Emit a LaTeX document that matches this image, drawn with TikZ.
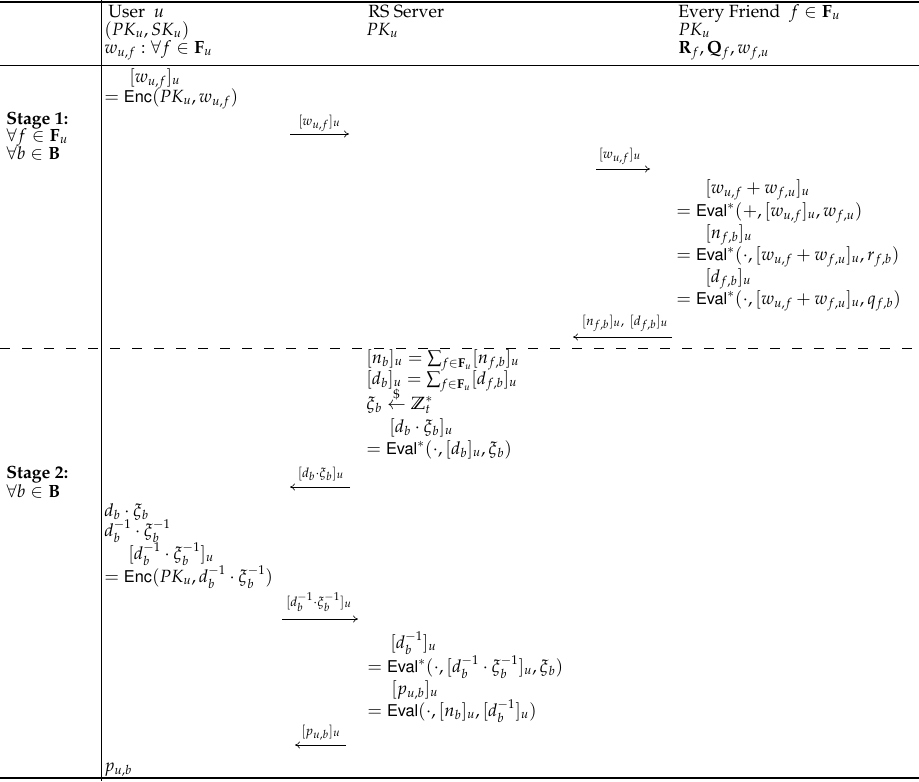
\documentclass[tikz,border=0pt]{standalone}
\usepackage[T1]{fontenc}
\usepackage{mathpazo}
\usepackage[scaled=0.92]{helvet}
\usepackage{amsmath,amssymb}
\usetikzlibrary{arrows.meta}
\DeclareMathSizes{11.5}{11.5}{8.3}{6.2}
\DeclareMathSizes{8.6}{8.6}{7.4}{6}
\newcommand{\myEnc}{\textsf{Enc}}
\newcommand{\myEval}{\textsf{Eval}}
\begin{document}
\begin{tikzpicture}[x=0.65pt,y=-0.65pt,
  txt/.style={anchor=base west, inner sep=0pt, font=\fontsize{11.5}{13.8}\selectfont},
  msg/.style={anchor=base, inner sep=0pt, font=\fontsize{8.6}{10}\selectfont},
  arr/.style={-{To[length=3.2pt,width=4.5pt]}, line width=0.4pt},
  rule/.style={line width=0.8pt},
  midrule/.style={line width=0.6pt},
  dashrule/.style={line width=0.5pt, dash pattern=on 6.5pt off 7.8pt}]
\useasboundingbox (0,0) rectangle (919,781);
% rules
\coordinate (tl) at (0,2); \coordinate (tr) at (919,2);
\coordinate (hl) at (0,65); \coordinate (hr) at (919,65);
\coordinate (dl) at (0,348); \coordinate (dr) at (919,348);
\coordinate (bl) at (0,778); \coordinate (br) at (919,778);
\coordinate (vt) at (101.5,0); \coordinate (vb) at (101.5,781);
\draw[rule] (tl) -- (tr);
\draw[midrule] (hl) -- (hr);
\draw[dashrule] (dl) -- (dr);
\draw[rule] (bl) -- (br);
\draw[line width=0.5pt] (vt) -- (vb);
% header
\node[txt] (h1) at (108,17) {User\ \ $u$};
\node[txt] (h2) at (104,35) {$(PK_u,SK_u)$};
\node[txt] (h3) at (104,53) {$w_{u,f}:\forall f\in\mathbf{F}_u$};
\node[txt] (s1) at (368,17) {RS Server};
\node[txt] (s2) at (366,35) {$PK_u$};
\node[txt] (f1) at (678,17) {Every Friend\ \ $f\in\mathbf{F}_u$};
\node[txt] (f2) at (678,35) {$PK_u$};
\node[txt] (f3) at (678,53) {$\mathbf{R}_f,\mathbf{Q}_f,w_{f,u}$};
% stage labels
\node[txt] (st1a) at (6,124) {\textbf{Stage 1:}};
\node[txt] (st1b) at (6,141) {$\forall f\in\mathbf{F}_u$};
\node[txt] (st1c) at (6,159) {$\forall b\in\mathbf{B}$};
\node[txt] (st2a) at (6,478) {\textbf{Stage 2:}};
\node[txt] (st2b) at (6,497) {$\forall b\in\mathbf{B}$};
% stage 1 user
\node[txt] (u1) at (129,82) {$[w_{u,f}]_u$};
\node[txt] (u2) at (104,102) {$=\myEnc(PK_u,w_{u,f})$};
% stage 1 friend
\node[txt] (fr1) at (705,193) {$[w_{u,f}+w_{f,u}]_u$};
\node[txt] (fr2) at (676,216) {$=\myEval^*(+,[w_{u,f}]_u,w_{f,u})$};
\node[txt] (fr3) at (705,238) {$[n_{f,b}]_u$};
\node[txt] (fr4) at (676,260) {$=\myEval^*(\cdot,[w_{u,f}+w_{f,u}]_u,r_{f,b})$};
\node[txt] (fr5) at (705,282) {$[d_{f,b}]_u$};
\node[txt] (fr6) at (676,304) {$=\myEval^*(\cdot,[w_{u,f}+w_{f,u}]_u,q_{f,b})$};
% stage 2 server
\node[txt] (sv1) at (366,363) {$[n_b]_u=\sum_{f\in\mathbf{F}_u}[n_{f,b}]_u$};
\node[txt] (sv2) at (366,384) {$[d_b]_u=\sum_{f\in\mathbf{F}_u}[d_{f,b}]_u$};
\node[txt] (sv3) at (366,409) {$\xi_b\stackrel{\$}{\leftarrow}\mathbb{Z}_t^*$};
\node[txt] (sv4) at (389,432) {$[d_b\cdot\xi_b]_u$};
\node[txt] (sv5) at (366,454) {$=\myEval^*(\cdot,[d_b]_u,\xi_b)$};
% stage 2 user
\node[txt] (us1) at (104,516) {$d_b\cdot\xi_b$};
\node[txt] (us2) at (104,536) {$d_b^{-1}\cdot\xi_b^{-1}$};
\node[txt] (us3) at (128,559) {$[d_b^{-1}\cdot\xi_b^{-1}]_u$};
\node[txt] (us4) at (104,582) {$=\myEnc(PK_u,d_b^{-1}\cdot\xi_b^{-1})$};
% stage 2 server again
\node[txt] (sw1) at (390,648) {$[d_b^{-1}]_u$};
\node[txt] (sw2) at (367,672) {$=\myEval^*(\cdot,[d_b^{-1}\cdot\xi_b^{-1}]_u,\xi_b)$};
\node[txt] (sw3) at (391,694) {$[p_{u,b}]_u$};
\node[txt] (sw4) at (367,716) {$=\myEval(\cdot,[n_b]_u,[d_b^{-1}]_u)$};
\node[txt] (uf) at (104,771) {$p_{u,b}$};
% messages
\coordinate (a1s) at (290,134); \coordinate (a1e) at (349,134);
\draw[arr] (a1s) -- (a1e);
\node[msg] (m1) at (319.5,125) {$[w_{u,f}]_u$};
\coordinate (a2s) at (596,169); \coordinate (a2e) at (650,169);
\draw[arr] (a2s) -- (a2e);
\node[msg] (m2) at (620,158) {$[w_{u,f}]_u$};
\coordinate (a3s) at (672,337); \coordinate (a3e) at (573,337);
\draw[arr] (a3s) -- (a3e);
\node[msg] (m3) at (625,325) {$[n_{f,b}]_u,\ [d_{f,b}]_u$};
\coordinate (a4s) at (350,487); \coordinate (a4e) at (290,487);
\draw[arr] (a4s) -- (a4e);
\node[msg] (m4) at (321,477) {$[d_b{\cdot}\xi_b]_u$};
\coordinate (a5s) at (282,619); \coordinate (a5e) at (358,619);
\draw[arr] (a5s) -- (a5e);
\node[msg] (m5) at (319,606) {$[d_b^{-1}{\cdot}\xi_b^{-1}]_u$};
\coordinate (a6s) at (346,745); \coordinate (a6e) at (295,745);
\draw[arr] (a6s) -- (a6e);
\node[msg] (m6) at (321,735) {$[p_{u,b}]_u$};
\end{tikzpicture}
\end{document}
